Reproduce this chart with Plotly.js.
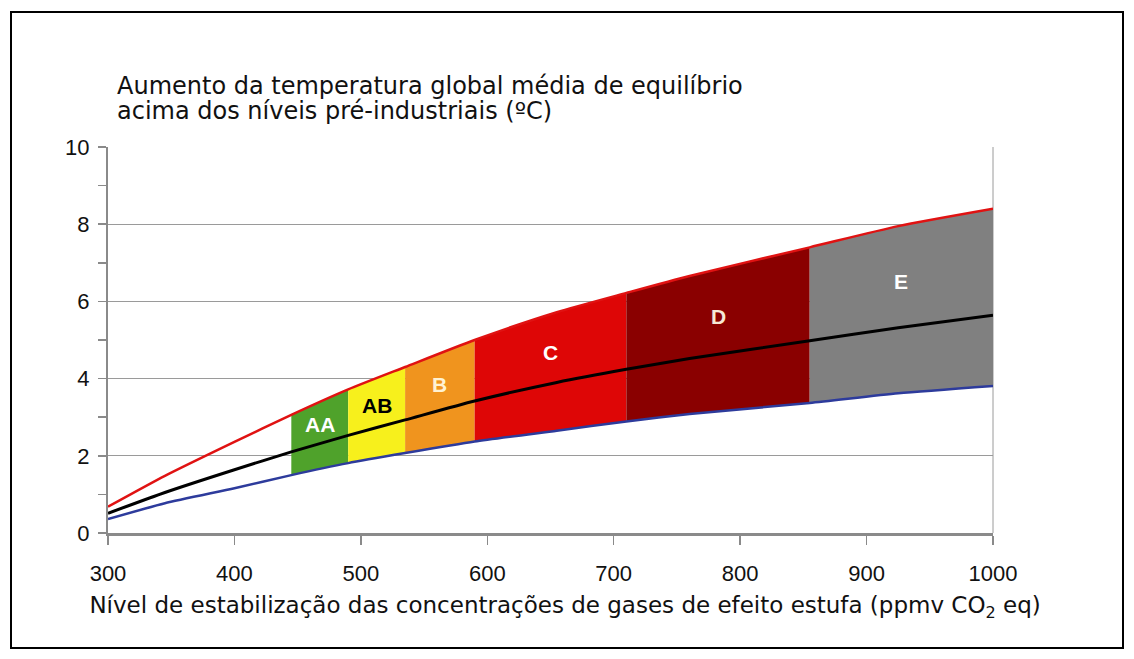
<!DOCTYPE html>
<html>
<head>
<meta charset="utf-8">
<script src="https://cdn.plot.ly/plotly-3.0.1.min.js"></script>
<style>
  html, body { margin: 0; padding: 0; background: #fff; }
  #wrap { position: relative; width: 1134px; height: 659px; }
  #chart { position: absolute; left: 0; top: 0; width: 1134px; height: 659px; }
  #frame { position: absolute; left: 10px; top: 11px; width: 1110px; height: 634px;
           border: 2px solid #000; pointer-events: none; }
</style>
</head>
<body>
<div id="wrap"><div id="chart"></div><div id="frame"></div></div>
<script>
// ---- data ----
const co2 = [300, 345, 400, 445, 490, 535, 590, 655, 710, 760, 855, 925, 1000];
const tempUpper = [0.68, 1.48, 2.36, 3.06, 3.72, 4.30, 5.00, 5.72, 6.22, 6.66, 7.40, 7.95, 8.40];
const tempBest  = [0.51, 1.05, 1.64, 2.10, 2.53, 2.93, 3.42, 3.90, 4.24, 4.52, 4.98, 5.32, 5.64];
const tempLower = [0.36, 0.77, 1.16, 1.50, 1.81, 2.07, 2.37, 2.65, 2.89, 3.08, 3.37, 3.62, 3.81];

const categories = ['AA', 'AB', 'B', 'C', 'D', 'E'];
const catStart = [445, 490, 535, 590, 710, 855];
const catEnd   = [490, 535, 590, 710, 855, 1000];

const xTickVals = [300, 400, 500, 600, 700, 800, 900, 1000];
const yTickVals = [0, 2, 4, 6, 8, 10];

// ---- styles ----
const catFill  = ['#4fa22b', '#f7f01c', '#f0941e', '#de0606', '#8a0000', '#808080'];
const catLabelColor = ['#ffffff', '#000000', '#fff2d2', '#ffffff', '#f6e8d6', '#ffffff'];
const FONT = 'Liberation Sans, Arial, Helvetica, sans-serif';
const WIDE = 'DejaVu Sans, Verdana, sans-serif';

function interp(xs, ys, x) {
  for (let i = 0; i < xs.length - 1; i++) {
    if (x >= xs[i] && x <= xs[i + 1]) {
      const t = (x - xs[i]) / (xs[i + 1] - xs[i]);
      return ys[i] + t * (ys[i + 1] - ys[i]);
    }
  }
  return ys[ys.length - 1];
}

const traces = [];
const annotations = [];

categories.forEach((name, k) => {
  const idx = co2.map((v, i) => i).filter(i => co2[i] >= catStart[k] && co2[i] <= catEnd[k]);
  const xs = idx.map(i => co2[i]).concat(idx.slice().reverse().map(i => co2[i]));
  const ys = idx.map(i => tempUpper[i]).concat(idx.slice().reverse().map(i => tempLower[i]));
  traces.push({
    x: xs, y: ys, type: 'scatter', mode: 'lines', fill: 'toself',
    fillcolor: catFill[k], line: { width: 0, color: catFill[k] },
    hoverinfo: 'skip', showlegend: false, name: name
  });
  const xm = (catStart[k] + catEnd[k]) / 2;
  const up = interp(co2, tempUpper, xm);
  const mid = interp(co2, tempBest, xm);
  annotations.push({
    x: xm, y: mid + 0.45 * (up - mid), xref: 'x', yref: 'y',
    text: '<b>' + name + '</b>', showarrow: false,
    font: { family: FONT, size: 21, color: catLabelColor[k] }
  });
});

traces.push({ x: co2, y: tempLower, type: 'scatter', mode: 'lines',
  line: { color: '#2d3b9c', width: 2.5, shape: 'spline', smoothing: 0.6 }, showlegend: false, name: 'inferior' });
traces.push({ x: co2, y: tempUpper, type: 'scatter', mode: 'lines',
  line: { color: '#e01212', width: 2.5, shape: 'spline', smoothing: 0.6 }, showlegend: false, name: 'superior' });
traces.push({ x: co2, y: tempBest, type: 'scatter', mode: 'lines',
  line: { color: '#000000', width: 3, shape: 'spline', smoothing: 0.6 }, showlegend: false, name: 'melhor estimativa' });

const layout = {
  width: 1134, height: 659,
  paper_bgcolor: '#ffffff', plot_bgcolor: '#ffffff',
  margin: { l: 108, r: 141, t: 147, b: 126 },
  font: { family: FONT, color: '#111' },
  title: {
    text: '<span style="font-size:24px">Aumento da temperatura global média de equilíbrio</span><br>' +
          '<span style="font-size:24px">acima dos níveis pré-industriais (ºC)</span>',
    x: 117 / 1134, xanchor: 'left', xref: 'container',
    y: 1 - 94 / 659, yanchor: 'top', yref: 'container',
    font: { family: WIDE, size: 19.5, color: '#111' }
  },
  xaxis: {
    range: [300, 1000], tickvals: xTickVals, ticktext: xTickVals.map(String),
    showgrid: false, zeroline: false,
    showline: true, linecolor: '#8a8a8a', linewidth: 2.5,
    ticks: 'outside', ticklen: 9, tickcolor: '#8a8a8a', tickwidth: 1.5,
    ticklabelstandoff: 10,
    tickfont: { family: FONT, size: 22, color: '#111' },
    title: { text: '&nbsp;&nbsp;&nbsp;&nbsp;Nível de estabilização das concentrações de gases de efeito estufa (ppmv CO<sub>2</sub> eq)',
             font: { family: WIDE, size: 23, color: '#111' }, standoff: 12 }
  },
  yaxis: {
    range: [0, 10], tickvals: yTickVals, ticktext: yTickVals.map(String),
    showgrid: true, gridcolor: '#9a9a9a', gridwidth: 1,
    zeroline: false,
    showline: true, linecolor: '#8a8a8a', linewidth: 2,
    ticks: 'outside', ticklen: 8, tickcolor: '#8a8a8a', tickwidth: 1.5,
    minor: { tickvals: [1, 3, 5, 7, 9], ticks: 'outside', ticklen: 8, tickcolor: '#8a8a8a', showgrid: false },
    ticklabelstandoff: 4,
    tickfont: { family: FONT, size: 22, color: '#111' }
  },
  shapes: [
    { type: 'line', xref: 'paper', yref: 'paper', x0: 1, x1: 1, y0: 0, y1: 1,
      line: { color: '#9a9a9a', width: 1 }, layer: 'below' }
  ],
  annotations: annotations,
  showlegend: false
};

Plotly.newPlot('chart', traces, layout, { displayModeBar: false, staticPlot: true });
</script>
</body>
</html>
